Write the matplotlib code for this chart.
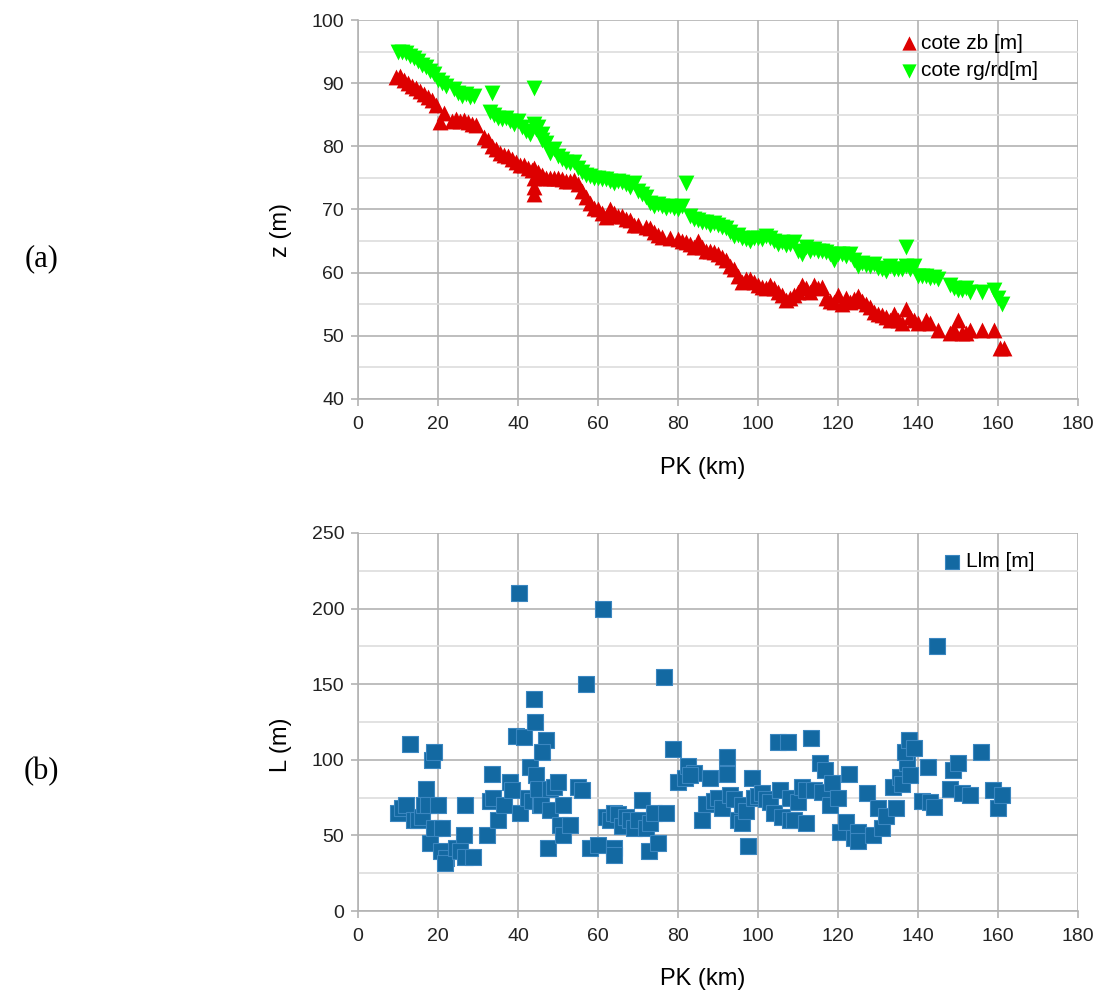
import matplotlib
matplotlib.use("Agg")
import matplotlib.pyplot as plt
from matplotlib.ticker import MultipleLocator

plt.rcParams['font.family'] = ['Liberation Sans', 'DejaVu Sans']

# (a) cote zb [m]
pk_zb = [9.5, 10.5, 11.5, 12.5, 13.5, 14.5, 15.5, 16.5, 17.5, 18.5, 19.5, 20.5, 21.5,
         23.5, 24.5, 25.5, 26.5, 27.5, 28.5, 29.5, 31.5, 32.5, 33.5, 34.5, 35.5, 36.5,
         37.5, 38.5, 39.5, 40.5, 41.5, 42.5, 43.5, 44, 44, 44, 44, 45, 46, 47, 48, 49,
         50, 51, 52, 53, 54, 55, 56, 57, 58, 59, 60, 61, 62, 63, 64, 65, 66, 67, 68, 69,
         70, 72, 73, 74, 75, 76, 78, 80, 81, 82, 83, 84, 85, 86, 87, 88, 89, 90, 91, 92,
         93, 94, 95, 96, 97, 98, 99, 100, 101, 102, 103, 104, 105, 106, 107, 108, 109,
         110, 111, 112, 113, 114, 115, 116, 117, 118, 119, 120, 121, 122, 123, 124, 125,
         126, 127, 128, 129, 130, 131, 132, 133, 134, 135, 136, 137, 138, 139, 140, 142,
         143, 145, 148, 149, 150, 151, 152, 153, 156, 159, 160.5, 161.5]
z_zb = [91.0, 91.2, 90.5, 90.0, 89.6, 89.2, 88.8, 88.3, 87.8, 87.3, 86.5, 83.8, 85.2,
        84.0, 84.3, 84.0, 84.2, 83.8, 83.5, 83.3, 81.5, 81.0, 80.0, 79.5, 79.0, 78.7,
        78.5, 78.0, 77.5, 77.0, 77.0, 76.5, 76.2, 75.0, 73.5, 72.5, 76.5, 76.0, 75.5,
        75.0, 75.0, 75.0, 75.0, 74.8, 74.5, 74.5, 74.6, 74.0, 73.0, 72.0, 71.0, 70.2,
        70.0, 69.5, 68.8, 70.0, 69.5, 69.0, 69.0, 68.5, 68.3, 67.5, 67.5, 67.3, 67.0,
        66.5, 66.0, 65.7, 65.5, 65.3, 65.0, 64.8, 64.5, 64.0, 65.0, 64.0, 63.5, 63.5,
        63.3, 63.0, 62.5, 62.0, 61.0, 60.5, 59.5, 58.5, 59.0, 59.0, 58.5, 58.0, 57.8,
        57.5, 58.0, 57.5, 57.0, 56.5, 55.7, 56.0, 56.5, 57.0, 58.0, 57.5, 57.0, 58.0,
        57.5, 57.8, 56.0, 55.5, 55.3, 56.5, 55.0, 56.0, 55.3, 55.8, 56.3, 55.5, 55.0,
        54.5, 53.7, 53.5, 53.3, 53.0, 52.5, 53.5, 52.5, 52.0, 54.2, 53.0, 52.5, 52.0,
        52.5, 52.0, 51.0, 50.5, 51.0, 52.5, 50.5, 50.5, 51.0, 51.0, 51.0, 48.0, 48.0]

# (a) cote rg/rd[m]
pk_rg = [10, 11, 12, 13, 14, 15, 16, 17, 18, 19, 20, 21, 22, 24, 25, 26, 27, 28, 29,
         33.5, 44, 33, 34, 35, 36, 37, 38, 39, 40, 41, 42, 43, 44, 44.5, 45, 46, 46,
         47, 48, 49, 50, 51, 52, 53, 54, 55, 56, 57, 58, 59, 60, 61, 62, 63, 64, 65,
         66, 67, 68, 69, 70, 71, 72, 73, 74, 75, 76, 77, 78, 79, 80, 81, 82, 83, 84,
         85, 86, 87, 88, 89, 90, 91, 92, 93, 94, 95, 96, 97, 98, 99, 100, 101, 102,
         103, 104, 105, 106, 107, 108, 109, 110, 111, 112, 113, 114, 115, 116, 117,
         118, 119, 120, 121, 122, 123, 124, 125, 126, 127, 128, 129, 130, 131, 132,
         133, 134, 135, 136, 137, 137, 138, 139, 140, 141, 142, 143, 144, 145, 148,
         149, 150, 151, 152, 153, 156, 159, 160, 161]
z_rg = [95.0, 95.0, 94.8, 94.3, 94.0, 93.5, 92.8, 92.5, 92.0, 91.5, 90.5, 90.0, 89.5,
        89.0, 88.5, 88.0, 88.3, 87.8, 88.0, 88.5, 89.3, 85.5, 85.0, 84.5, 84.3, 84.5,
        84.0, 83.5, 84.0, 83.0, 82.5, 82.0, 83.5, 82.7, 83.0, 82.0, 81.0, 80.5, 79.0,
        79.5, 78.5, 78.0, 77.5, 77.3, 77.5, 76.5, 76.0, 75.5, 75.3, 75.0, 75.0, 74.8,
        74.8, 74.5, 74.2, 74.5, 74.3, 74.0, 73.5, 74.2, 73.0, 72.5, 72.0, 71.0, 70.5,
        70.8, 70.5, 70.3, 70.5, 70.2, 70.0, 70.5, 74.2, 69.0, 68.5, 68.3, 68.0, 68.0,
        67.5, 67.8, 67.5, 67.2, 67.0, 66.5, 65.8, 66.0, 65.5, 65.3, 65.0, 65.5, 65.5,
        65.3, 65.8, 65.5, 65.0, 64.5, 64.8, 64.3, 64.5, 64.8, 63.5, 63.0, 64.0, 63.5,
        63.7, 63.5, 63.5, 63.2, 63.0, 62.0, 63.0, 63.0, 62.7, 63.0, 62.0, 61.0, 61.5,
        61.2, 61.0, 61.3, 60.8, 60.5, 60.3, 61.0, 60.5, 60.5, 60.5, 64.0, 61.0, 60.5,
        61.0, 59.5, 59.5, 59.5, 59.2, 59.3, 59.0, 58.0, 57.5, 57.3, 57.2, 57.5, 57.0,
        57.0, 57.3, 56.0, 55.0]

# (b) Llm [m]  (rows of pk_l and l_l match one to one)
pk_l = [10, 11, 12, 13, 14, 15, 16, 16.5, 17, 17.5, 18.5, 18, 19, 19, 20, 21, 20.8,
        22, 21.8, 24.5, 25.5, 26.5, 26.7, 26.7, 28.7, 32.3, 33, 33.5, 33.8, 35, 36.5,
        38, 38.5, 40.25, 40.5, 39.5, 41.5, 42.5, 43.5, 43, 43.9, 44.2, 44.5, 45, 45.5,
        45.7, 46.9, 46, 47.5, 48, 48, 49, 50, 50.5, 51.3, 51.3, 53, 55, 56, 56.9, 58,
        60, 61.3, 62, 63, 64, 64, 64, 65, 66, 67, 68, 69, 70, 71, 72, 72.8, 73, 74,
        75, 76.5, 77, 78.7, 80, 81.7, 82.5, 84, 83, 86, 87, 88, 89, 90, 91, 92.3,
        92.3, 93, 94, 95, 96, 96, 97, 97.5, 98.5, 99, 100, 101, 102, 103, 104, 105,
        105.5, 106, 107.5, 108, 108, 109, 110, 111, 112, 112, 113.3, 114, 115.5,
        116.8, 116, 118, 118.5, 120, 120.5, 122, 122.7, 124, 125, 125, 127.3, 128.8,
        131, 130, 132, 134.5, 133.8, 135.5, 136, 137.3, 136.8, 137.8, 139, 138, 141,
        142.5, 143, 144, 144.8, 148, 148.8, 150, 151, 153, 155.7, 158.7, 160, 161]
l_l = [65, 68, 70, 110.5, 60, 60, 62, 70, 80.5, 70, 100, 45, 105, 55, 70, 55, 40,
       35, 32, 42, 40, 50, 70, 36, 36, 50, 73, 90.6, 75, 60, 70,
       85, 80, 210, 65, 115.7, 115, 75, 73, 95, 140, 125, 90, 81, 70,
       70, 113, 105, 41.7, 67, 81, 82, 85, 57, 70, 50, 57, 82, 80, 150, 42,
       43.7, 200, 62, 60, 65, 42, 37, 64, 56, 62, 60, 55, 60, 73.4, 55, 40, 58, 65,
       45, 155, 65, 107, 85, 88, 96, 91, 90, 60, 71, 88, 73, 75, 68, 102,
       90.6, 77, 74, 60, 70, 58, 66, 43, 88, 75, 76, 78, 74, 72, 65, 112,
       80, 62, 112, 75, 60, 60, 72, 82, 80, 58, 114.5, 80, 98,
       93, 79, 70, 84.6, 75, 52, 59, 90.6, 48, 52, 46, 78, 50,
       55, 68, 63, 68, 82, 88.6, 84, 98, 105, 113, 108, 90, 73,
       95, 72, 69, 175, 81, 93, 98, 78, 77, 105, 80, 68, 77]

red = '#dd0000'
green = '#00ff00'
blue = '#1369a2'
grid_major = '#b3b3b3'
grid_minor = '#dddddd'

fig = plt.figure(figsize=(10.99, 9.91), dpi=100)
ax1 = fig.add_axes([0.3258, 0.5974, 0.6552, 0.3824])
ax2 = fig.add_axes([0.3258, 0.0807, 0.6552, 0.3815])


def style_axes(ax, ymin, ymax, ystep):
    ax.set_xlim(0, 180)
    ax.set_ylim(ymin, ymax)
    ax.xaxis.set_major_locator(MultipleLocator(20))
    ax.yaxis.set_major_locator(MultipleLocator(ystep))
    ax.yaxis.set_minor_locator(MultipleLocator(ystep / 2))
    ax.set_axisbelow(True)
    ax.grid(which='major', color=grid_major, linewidth=1.2)
    ax.grid(which='minor', axis='y', color=grid_minor, linewidth=1.2)
    ax.grid(which='minor', axis='x', visible=False)
    for s in ['top', 'right']:
        ax.spines[s].set_visible(False)
    for s in ['left', 'bottom']:
        ax.spines[s].set_color(grid_major)
        ax.spines[s].set_linewidth(1.2)
    ax.tick_params(which='major', direction='out', length=5, width=1.2,
                   color=grid_major, labelsize=14, labelcolor='#222222', pad=5)
    ax.tick_params(which='minor', length=0)
    ax.tick_params(axis='x', pad=7)


style_axes(ax1, 40, 100, 10)
style_axes(ax2, 0, 250, 50)

ax1.scatter(pk_zb, z_zb, marker='^', s=130, color=red, linewidths=0,
            label='cote zb [m]', zorder=3)
ax1.scatter(pk_rg, z_rg, marker='v', s=130, color=green, linewidths=0,
            label='cote rg/rd[m]', zorder=3)
ax2.scatter(pk_l, l_l, marker='s', s=125, color=blue, edgecolors='#3a86c0',
            linewidths=0.8, label='Llm [m]', zorder=3)

ax1.set_xlabel('PK (km)', fontsize=17)
ax1.set_ylabel('z (m)', fontsize=17)
ax2.set_xlabel('PK (km)', fontsize=17)
ax2.set_ylabel('L (m)', fontsize=17)
ax1.xaxis.set_label_coords(0.479, -0.153)
ax2.xaxis.set_label_coords(0.479, -0.151)
ax1.yaxis.set_label_coords(-0.092, 0.446)
ax2.yaxis.set_label_coords(-0.092, 0.439)

ax1.legend(loc='upper left', bbox_to_anchor=(0.728, 1.013), frameon=False,
           fontsize=15, handlelength=0.8, handletextpad=0.18,
           labelspacing=0.4, markerscale=0.9)
ax2.legend(loc='upper left', bbox_to_anchor=(0.7875, 0.998), frameon=False,
           fontsize=15, handlelength=0.8, handletextpad=0.25, markerscale=0.9)

fig.text(0.038, 0.739, '(a)', family=['Liberation Serif', 'DejaVu Serif'],
         fontsize=22, ha='center', va='center')
fig.text(0.038, 0.221, '(b)', family=['Liberation Serif', 'DejaVu Serif'],
         fontsize=22, ha='center', va='center')

fig.savefig('out.png', dpi=100)
